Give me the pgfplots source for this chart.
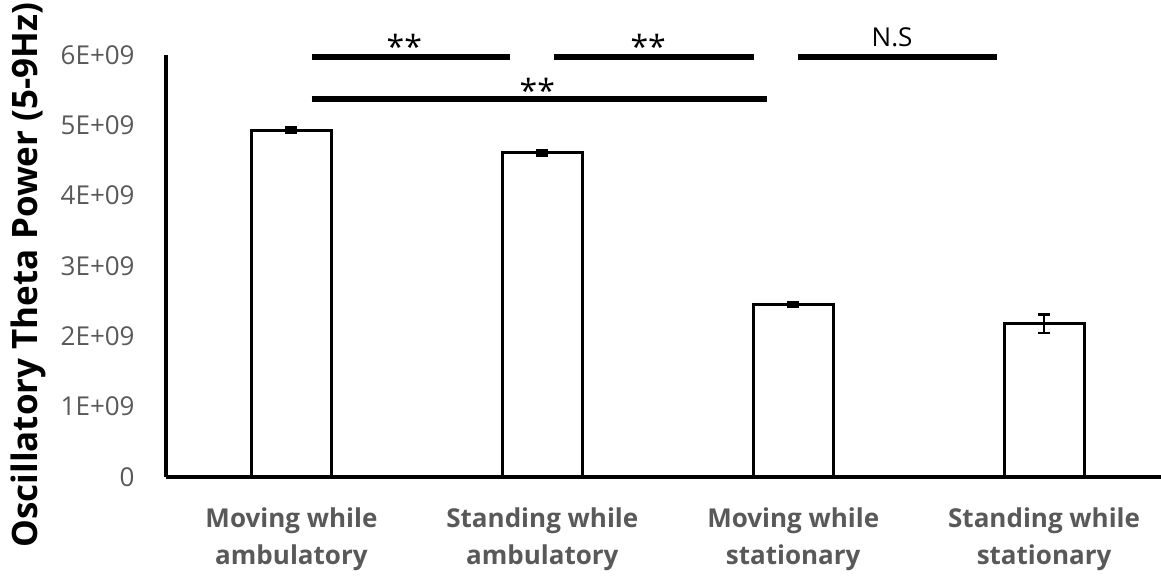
\documentclass[border=0pt]{standalone}
\usepackage{fontspec}
\setmainfont{Open Sans}
\usepackage{pgfplots}
\pgfplotsset{compat=1.18}
\definecolor{tickgrey}{HTML}{595959}
\begin{document}
\begin{tikzpicture}
\begin{axis}[
  at={(83pt,50pt)}, anchor=south west,
  scale only axis,
  width=497.5pt, height=211pt,
  xmin=-0.5, xmax=3.466,
  ymin=0, ymax=6e9,
  axis x line=bottom, axis y line=left,
  axis line style={-, line width=1.6pt, black},
  clip=false,
  scaled y ticks=false,
  ytick={0,1e9,2e9,3e9,4e9,5e9,6e9},
  yticklabels={0,1E+09,2E+09,3E+09,4E+09,5E+09,6E+09},
  xtick={0,1,2,3},
  xticklabels={Moving while\\ambulatory, Standing while\\ambulatory, Moving while\\stationary, Standing while\\stationary},
  major tick length=0pt,
  yticklabel style={font=\fontsize{13}{15}\selectfont, text=tickgrey, anchor=east, inner sep=0pt, xshift=-15.5pt},
  xticklabel style={font=\fontsize{13}{18.5}\selectfont\bfseries, text=tickgrey, align=center, anchor=north, inner sep=0pt, yshift=-15pt},
]
\addplot[ybar, bar width=40pt, fill=white, draw=black, line width=1.5pt,
  error bars/.cd, y dir=both, y explicit,
  error bar style={line width=1.3pt, black},
  error mark options={rotate=90, line width=1.3pt, mark size=3pt, black}]
  table[x=x, y=y, y error=e] {
  x y e
  0 4.93e9 0.04e9
  1 4.61e9 0.04e9
  2 2.45e9 0.03e9
  3 2.18e9 0.13e9
};
\addplot[black, line width=2.8pt] coordinates {(0.080,5.972e9) (0.873,5.972e9)};
\addplot[black, line width=2.8pt] coordinates {(1.048,5.972e9) (1.845,5.972e9)};
\addplot[black, line width=2.8pt] coordinates {(2.020,5.972e9) (2.813,5.972e9)};
\addplot[black, line width=2.8pt] coordinates {(0.080,5.375e9) (1.896,5.375e9)};
\node[anchor=base, font=\fontsize{16}{18}\selectfont] at (axis cs:0.450,5.95e9) {**};
\node[anchor=base, font=\fontsize{16}{18}\selectfont] at (axis cs:1.422,5.95e9) {**};
\node[anchor=base, font=\fontsize{16}{18}\selectfont] at (axis cs:0.980,5.33e9) {**};
\node[anchor=base, font=\fontsize{13}{15}\selectfont] at (axis cs:2.394,6.12e9) {N.S};
\end{axis}
\node[rotate=90, font=\fontsize{17.5}{20}\selectfont\bfseries] at (14pt,151pt) {Oscillatory Theta Power (5-9Hz)};
\pgfresetboundingbox
\path (0,0) rectangle (580.5pt,288.5pt);
\end{tikzpicture}
\end{document}
